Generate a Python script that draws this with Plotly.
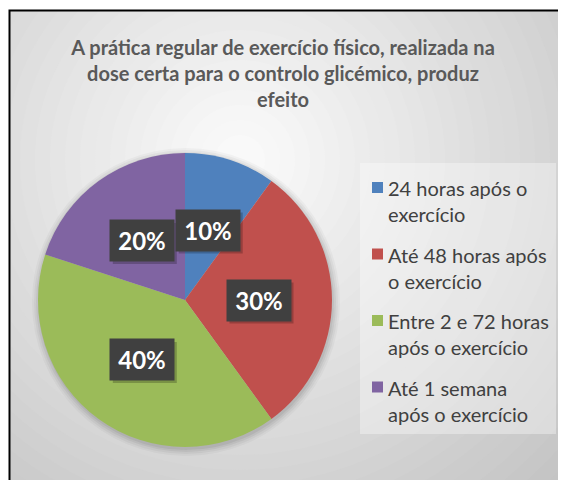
import math
import plotly.graph_objects as go

labels = ["24 horas após o<br>exercício", "Até 48 horas após<br>o exercício",
          "Entre 2 e 72 horas<br>após o exercício", "Até 1 semana<br>após o exercício"]
values = [10, 30, 40, 20]
colors = ["#4f81bd", "#c0504d", "#9bbb59", "#8064a2"]
title_text = "A prática regular de exercício físico, realizada na<br>dose certa para o controlo glicémico, produz<br>efeito"

OFF = 8                 # page body margin
W, H = 566 - OFF, 480 - OFF
FONT = "Lato, Carlito, Calibri, sans-serif"


def PX(x):
    return (x - OFF) / W


def PY(y):
    return 1 - (y - OFF) / H


# pie geometry (page pixels)
cx, cy, R = 185, 300, 147

fig = go.Figure()
fig.add_trace(go.Pie(
    labels=labels, values=values, sort=False, direction="clockwise", rotation=0,
    marker=dict(colors=colors, line=dict(width=0)),
    textinfo="none", hoverinfo="label+percent", showlegend=False,
    domain=dict(x=[PX(cx - R), PX(cx + R)], y=[PY(cy + R), PY(cy - R)]),
))

shapes = []
# radial gradient background
gcx, gcy = 240, 160
steps = 34
for i in range(steps):
    r = 520 - i * 15
    t = max(0.0, min(1.0, r / 450))
    L = 0.99 - (0.99 - 0.77) * t
    g = int(round(L * 255))
    shapes.append(dict(type="circle", xref="paper", yref="paper",
                       x0=PX(gcx - r), x1=PX(gcx + r), y0=PY(gcy + r), y1=PY(gcy - r),
                       fillcolor=f"rgb({g},{g},{g})", line=dict(width=0), layer="below"))
# white margins outside the frame
shapes.append(dict(type="rect", xref="paper", yref="paper", x0=-0.1, x1=1.1, y0=PY(10), y1=1.1,
                   fillcolor="white", line=dict(width=0), layer="below"))
shapes.append(dict(type="rect", xref="paper", yref="paper", x0=-0.1, x1=PX(9), y0=-0.1, y1=1.1,
                   fillcolor="white", line=dict(width=0), layer="below"))
# frame border
shapes.append(dict(type="rect", xref="paper", yref="paper", x0=PX(9.5), x1=1.2, y0=-0.2, y1=PY(10.5),
                   fillcolor="rgba(0,0,0,0)", line=dict(color="black", width=2), layer="below"))
# soft pie shadow
for dr, op in [(7, 0.03), (5, 0.04), (3, 0.05), (1, 0.06)]:
    shapes.append(dict(type="circle", xref="paper", yref="paper",
                       x0=PX(cx - R - dr + 1), x1=PX(cx + R + dr + 1),
                       y0=PY(cy + R + dr + 2), y1=PY(cy - R - dr + 2),
                       fillcolor=f"rgba(0,0,0,{op})", line=dict(width=0), layer="below"))
# legend background box
shapes.append(dict(type="rect", xref="paper", yref="paper", x0=PX(360), x1=PX(556),
                   y0=PY(434), y1=PY(163), fillcolor="rgba(255,255,255,0.35)",
                   line=dict(width=0), layer="below"))

annotations = []
# data labels at half radius of each slice's mid-angle
BW, BH = 64, 41
total = sum(values)
cum = 0
for v in values:
    mid = (cum + v / 2) / total * 2 * math.pi
    cum += v
    lx = cx + 0.5 * R * math.sin(mid)
    ly = cy - 0.5 * R * math.cos(mid)
    # drop shadow of the label box
    shapes.append(dict(type="rect", xref="paper", yref="paper",
                       x0=PX(lx - BW / 2 + 3), x1=PX(lx + BW / 2 + 3),
                       y0=PY(ly + BH / 2 + 3), y1=PY(ly - BH / 2 + 3),
                       fillcolor="rgba(0,0,0,0.22)", line=dict(width=0), layer="above"))
    annotations.append(dict(
        x=PX(lx), y=PY(ly), xref="paper", yref="paper",
        text=f"<b>{round(v / total * 100)}%</b>", showarrow=False,
        width=BW - 12, height=BH - 12, borderpad=6,
        font=dict(family=FONT, size=24, color="white"),
        bgcolor="#404040", xanchor="center", yanchor="middle",
    ))

# legend entries (square marker + two-line text)
leg_top, leg_step = 175, 66.5
for i, (lab, col) in enumerate(zip(labels, colors)):
    y0 = leg_top + i * leg_step
    shapes.append(dict(type="rect", xref="paper", yref="paper",
                       x0=PX(372), x1=PX(383), y0=PY(y0 + 18), y1=PY(y0 + 7),
                       fillcolor=col, line=dict(width=0)))
    annotations.append(dict(
        x=PX(387), y=PY(y0), xref="paper", yref="paper", text=lab, showarrow=False,
        xanchor="left", yanchor="top", align="left", borderpad=0,
        font=dict(family=FONT, size=20, color="#404040"),
    ))

fig.update_layout(
    width=W, height=H,
    margin=dict(l=0, r=0, t=0, b=0),
    paper_bgcolor="white",
    title=dict(text=f"<b>{title_text}</b>", x=PX(283), xanchor="center",
               y=PY(55), yanchor="top",
               font=dict(family=FONT, size=20, color="#595959")),
    showlegend=False,
    shapes=shapes,
    annotations=annotations,
)

fig.write_html("out.html")
